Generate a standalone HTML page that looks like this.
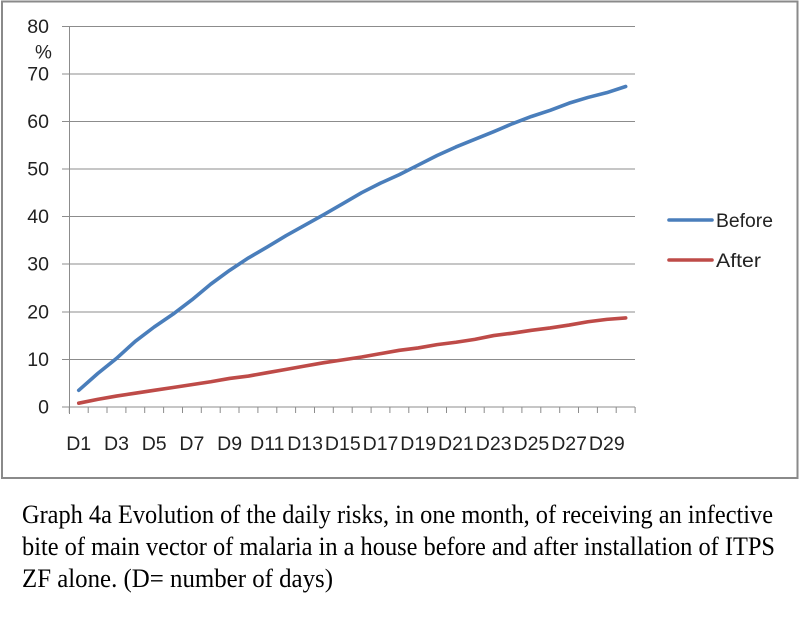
<!DOCTYPE html>
<html>
<head>
<meta charset="utf-8">
<style>
  html, body { margin: 0; padding: 0; background: #ffffff; }
  svg { display: block; }
</style>
</head>
<body>
<svg width="800" height="631" viewBox="0 0 800 631" xmlns="http://www.w3.org/2000/svg">
  <rect x="0" y="0" width="800" height="631" fill="#ffffff"/>
  <!-- chart border -->
  <rect x="2" y="1.5" width="795.5" height="476.5" fill="#ffffff" stroke="#8a8a8a" stroke-width="2"/>

  <!-- gridlines -->
  <g stroke="#8c8c8c" stroke-width="1" fill="none">
    <line x1="62" y1="26.5" x2="635" y2="26.5"/>
    <line x1="62" y1="74" x2="635" y2="74"/>
    <line x1="62" y1="121.5" x2="635" y2="121.5"/>
    <line x1="62" y1="169" x2="635" y2="169"/>
    <line x1="62" y1="216.5" x2="635" y2="216.5"/>
    <line x1="62" y1="264" x2="635" y2="264"/>
    <line x1="62" y1="312" x2="635" y2="312"/>
    <line x1="62" y1="359.5" x2="635" y2="359.5"/>
    <line x1="62" y1="407" x2="635" y2="407"/>
    <!-- y axis -->
    <line x1="69.5" y1="26" x2="69.5" y2="414"/>
  </g>
  <!-- x ticks -->
  <g stroke="#8c8c8c" stroke-width="1">
    <line x1="69.3" y1="407" x2="69.3" y2="413"/>
    <line x1="88.2" y1="407" x2="88.2" y2="413"/>
    <line x1="107.0" y1="407" x2="107.0" y2="413"/>
    <line x1="125.9" y1="407" x2="125.9" y2="413"/>
    <line x1="144.7" y1="407" x2="144.7" y2="413"/>
    <line x1="163.6" y1="407" x2="163.6" y2="413"/>
    <line x1="182.5" y1="407" x2="182.5" y2="413"/>
    <line x1="201.3" y1="407" x2="201.3" y2="413"/>
    <line x1="220.2" y1="407" x2="220.2" y2="413"/>
    <line x1="239.0" y1="407" x2="239.0" y2="413"/>
    <line x1="257.9" y1="407" x2="257.9" y2="413"/>
    <line x1="276.8" y1="407" x2="276.8" y2="413"/>
    <line x1="295.6" y1="407" x2="295.6" y2="413"/>
    <line x1="314.5" y1="407" x2="314.5" y2="413"/>
    <line x1="333.3" y1="407" x2="333.3" y2="413"/>
    <line x1="352.2" y1="407" x2="352.2" y2="413"/>
    <line x1="371.1" y1="407" x2="371.1" y2="413"/>
    <line x1="389.9" y1="407" x2="389.9" y2="413"/>
    <line x1="408.8" y1="407" x2="408.8" y2="413"/>
    <line x1="427.6" y1="407" x2="427.6" y2="413"/>
    <line x1="446.5" y1="407" x2="446.5" y2="413"/>
    <line x1="465.4" y1="407" x2="465.4" y2="413"/>
    <line x1="484.2" y1="407" x2="484.2" y2="413"/>
    <line x1="503.1" y1="407" x2="503.1" y2="413"/>
    <line x1="521.9" y1="407" x2="521.9" y2="413"/>
    <line x1="540.8" y1="407" x2="540.8" y2="413"/>
    <line x1="559.7" y1="407" x2="559.7" y2="413"/>
    <line x1="578.5" y1="407" x2="578.5" y2="413"/>
    <line x1="597.4" y1="407" x2="597.4" y2="413"/>
    <line x1="616.2" y1="407" x2="616.2" y2="413"/>
    <line x1="635.1" y1="407" x2="635.1" y2="413"/>
  </g>

  <!-- y labels -->
  <g font-family="'Liberation Sans', 'DejaVu Sans', sans-serif" font-size="19.5" fill="#222" text-anchor="end">
    <text x="49" y="33">80</text>
    <text x="49" y="80.5">70</text>
    <text x="49" y="128">60</text>
    <text x="49" y="175.5">50</text>
    <text x="49" y="223">40</text>
    <text x="49" y="270.5">30</text>
    <text x="49" y="318.5">20</text>
    <text x="49" y="366">10</text>
    <text x="49" y="413.5">0</text>
  </g>
  <text x="35" y="58.5" font-family="'Liberation Sans', 'DejaVu Sans', sans-serif" font-size="19" fill="#222">%</text>

  <!-- x labels -->
  <g font-family="'Liberation Sans', 'DejaVu Sans', sans-serif" font-size="19.5" fill="#222" text-anchor="middle">
    <text x="78.7" y="450">D1</text>
    <text x="116.5" y="450">D3</text>
    <text x="154.2" y="450">D5</text>
    <text x="191.9" y="450">D7</text>
    <text x="229.6" y="450">D9</text>
    <text x="267.3" y="450">D11</text>
    <text x="305.1" y="450">D13</text>
    <text x="342.8" y="450">D15</text>
    <text x="380.5" y="450">D17</text>
    <text x="418.2" y="450">D19</text>
    <text x="455.9" y="450">D21</text>
    <text x="493.7" y="450">D23</text>
    <text x="531.4" y="450">D25</text>
    <text x="569.1" y="450">D27</text>
    <text x="606.8" y="450">D29</text>
  </g>

  <!-- series -->
  <polyline fill="none" stroke="#4a7ebb" stroke-width="3.6" stroke-linejoin="round" stroke-linecap="round"
    points="78.73,390.33 97.59,373.66 116.45,358.42 135.31,341.28 154.17,327.0 173.03,314.13 191.89,299.84 210.75,284.13 229.61,270.32 248.47,257.93 267.33,246.98 286.19,235.55 305.05,225.07 323.91,214.6 342.77,203.64 361.63,192.69 380.49,183.16 399.35,174.59 418.21,165.06 437.07,155.54 455.93,146.97 474.79,139.35 493.65,131.73 512.51,123.63 531.37,116.49 550.23,110.30 569.09,103.16 587.95,97.44 606.81,92.68 625.67,86.48"/>
  <polyline fill="none" stroke="#be4b48" stroke-width="3.6" stroke-linejoin="round" stroke-linecap="round"
    points="78.73,403.19 97.59,399.38 116.45,396.05 135.31,393.19 154.17,390.33 173.03,387.47 191.89,384.62 210.75,381.76 229.61,378.43 248.47,376.04 267.33,372.71 286.19,369.38 305.05,366.04 323.91,362.71 342.77,359.85 361.63,357.0 380.49,353.66 399.35,350.33 418.21,347.94 437.07,344.61 455.93,342.23 474.79,339.37 493.65,335.56 512.51,333.18 531.37,330.32 550.23,327.94 569.09,325.08 587.95,321.75 606.81,319.37 625.67,317.94"/>

  <!-- legend -->
  <line x1="669" y1="220" x2="712" y2="220" stroke="#4a7ebb" stroke-width="3.6" stroke-linecap="round"/>
  <text x="716" y="227" font-family="'Liberation Sans', 'DejaVu Sans', sans-serif" font-size="19.5" fill="#222" textLength="57" lengthAdjust="spacingAndGlyphs">Before</text>
  <line x1="669" y1="260" x2="712" y2="260" stroke="#be4b48" stroke-width="3.6" stroke-linecap="round"/>
  <text x="716" y="267" font-family="'Liberation Sans', 'DejaVu Sans', sans-serif" font-size="19.5" fill="#222" textLength="45" lengthAdjust="spacingAndGlyphs">After</text>

  <!-- caption -->
  <g font-family="'Liberation Serif', 'DejaVu Serif', serif" font-size="26.5" fill="#000">
    <text x="22" y="523" textLength="751" lengthAdjust="spacingAndGlyphs">Graph 4a Evolution of the daily risks, in one month, of receiving an infective</text>
    <text x="22" y="555" textLength="753" lengthAdjust="spacingAndGlyphs">bite of main vector of malaria in a house before and after installation of ITPS</text>
    <text x="22" y="587" textLength="311" lengthAdjust="spacingAndGlyphs">ZF alone. (D= number of days)</text>
  </g>
</svg>
</body>
</html>
